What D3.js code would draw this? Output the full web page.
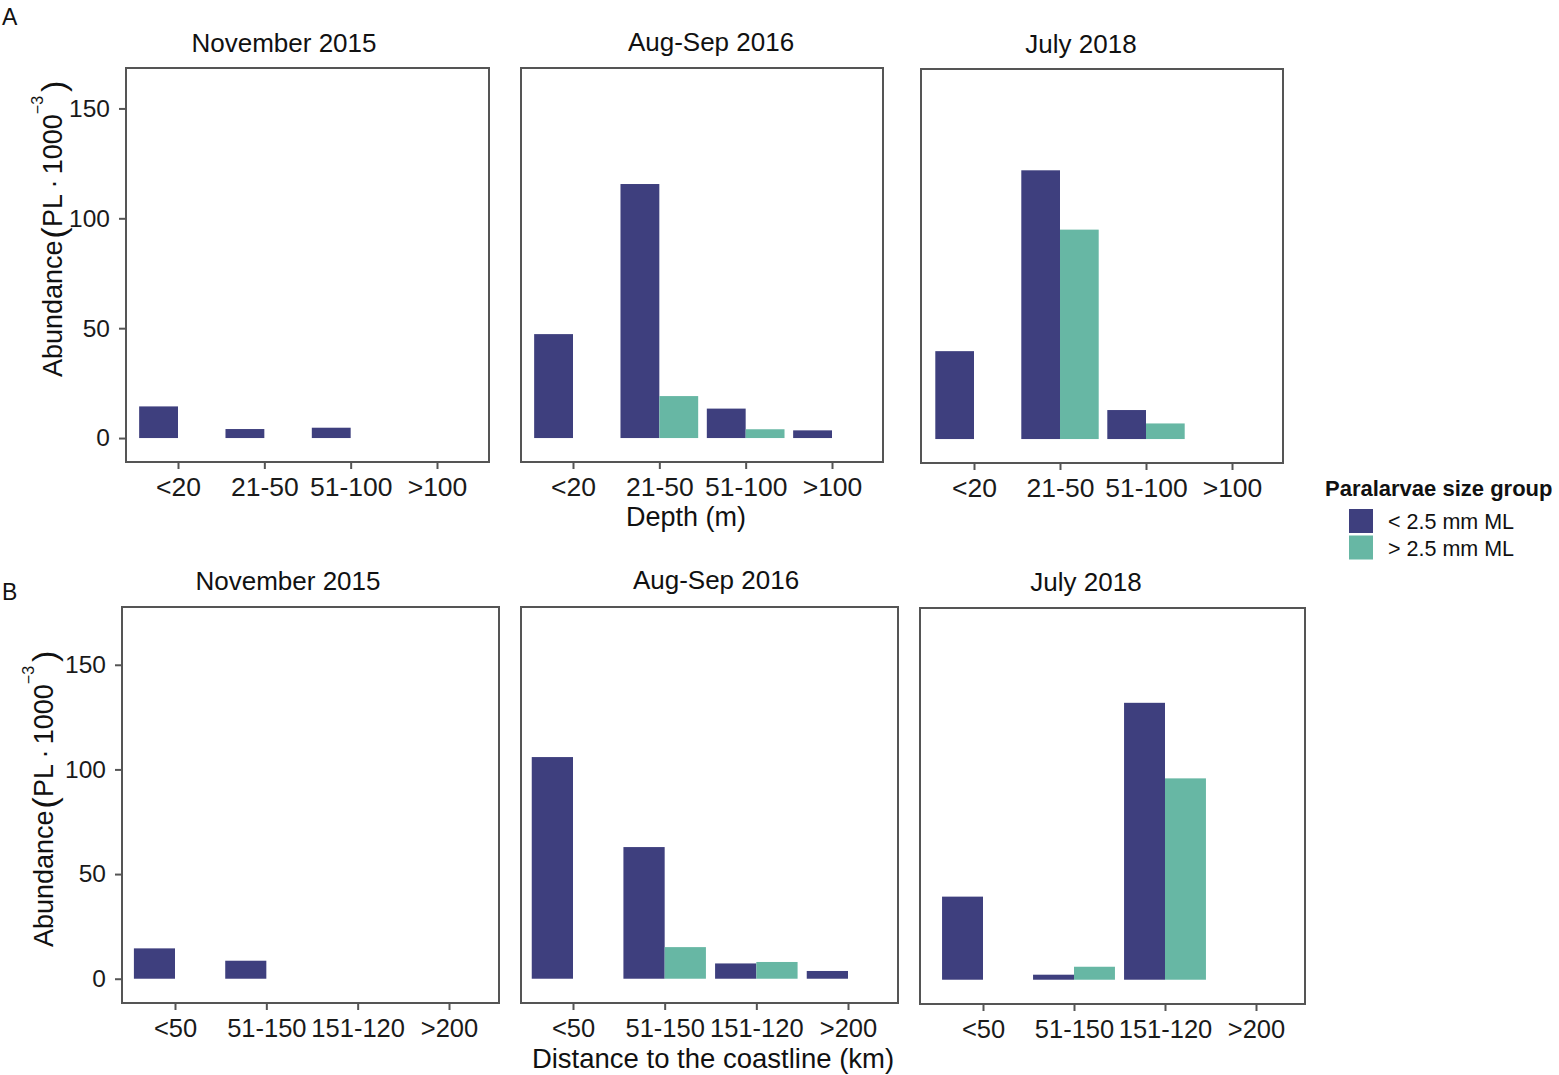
<!DOCTYPE html>
<html lang="en">
<head>
<meta charset="UTF-8">
<title>Paralarvae abundance</title>
<script src="https://cdn.jsdelivr.net/npm/d3@7"></script>
<style>
    body { margin: 0; background: #fff; }
    svg { font-family: "Liberation Sans", Arial, sans-serif; }
    .frame { fill: none; stroke: #555; stroke-width: 2; }
    .axis path { display: none; }
    .axis line { stroke: #555; stroke-width: 2; }
    .axis text { fill: #1a1a1a; }
</style>
</head>
<body>
<svg width="1559" height="1075"></svg>
<script>
// data
const surveys = ["November 2015", "Aug-Sep 2016", "July 2018"];
const depthCats = ["<20", "21-50", "51-100", ">100"];
const distCats = ["<50", "51-150", "151-120", ">200"];
const sizeGroups = ["< 2.5 mm ML", "> 2.5 mm ML"];
const yTicks = [0, 50, 100, 150];

// abundance per survey, one value per category (null = no bar)
const depthSmall = [[14.4, 4.1, 4.7, null], [47.3, 115.6, 13.4, 3.5], [40.0, 122.3, 13.2, null]];
const depthLarge = [[null, null, null, null], [null, 19.1, 4.0, null], [null, 95.3, 7.1, null]];
const distSmall = [[14.5, 8.6, null, null], [105.9, 62.9, 7.3, 3.7], [39.7, 2.4, 132.3, null]];
const distLarge = [[null, null, null, null], [null, 15.1, 8.0, null], [null, 6.2, 96.2, null]];

const colors = ["#3e3f7e", "#67b7a4"];

const svg = d3.select("svg");

// panel layout: frame box, first/last tick x, title centre
const rows = [
    {
        cats: depthCats, small: depthSmall, large: depthLarge,
        yDomain: [-10.9, 168.4], label: "A", labelY: 25, tickFont: 26.5, tickPad: 8,
        xTitle: "Depth (m)", xTitleX: 686, xTitleY: 526, xTitleFont: 27,
        yTitleX: 62, yTitleY: 377,
        panels: [
            {x0: 126, x1: 489, y0: 68, y1: 462, ta: 178, tb: 437, titleX: 284, titleY: 52},
            {x0: 521, x1: 883, y0: 68, y1: 462, ta: 573, tb: 832, titleX: 711, titleY: 51},
            {x0: 921, x1: 1283, y0: 69, y1: 463, ta: 974, tb: 1232, titleX: 1081, titleY: 53}
        ]
    },
    {
        cats: distCats, small: distSmall, large: distLarge,
        yDomain: [-11.6, 177.6], label: "B", labelY: 600, tickFont: 25.5, tickPad: 9,
        xTitle: "Distance to the coastline (km)", xTitleX: 713, xTitleY: 1068, xTitleFont: 27.5,
        yTitleX: 53, yTitleY: 947,
        panels: [
            {x0: 122, x1: 499, y0: 607, y1: 1003, ta: 175, tb: 449, titleX: 288, titleY: 590},
            {x0: 521, x1: 898, y0: 607, y1: 1003, ta: 573, tb: 848, titleX: 716, titleY: 589},
            {x0: 920, x1: 1305, y0: 608, y1: 1004, ta: 983, tb: 1256, titleX: 1086, titleY: 591}
        ]
    }
];

rows.forEach(row => {
    svg.append("text")
        .attr("x", 2).attr("y", row.labelY)
        .attr("font-size", 23).attr("fill", "#111")
        .text(row.label);

    row.panels.forEach((p, i) => {
        const x = d3.scalePoint().domain(row.cats).range([p.ta, p.tb]);
        const y = d3.scaleLinear().domain(row.yDomain).range([p.y1, p.y0]);
        const bw = x.step() * 0.45;

        const g = svg.append("g");

        // bars: small group left of tick, large group right of tick
        const bars = [];
        row.cats.forEach((c, j) => {
            if (row.small[i][j] != null) bars.push({cat: c, grp: 0, v: row.small[i][j]});
            if (row.large[i][j] != null) bars.push({cat: c, grp: 1, v: row.large[i][j]});
        });

        g.selectAll("rect.bar")
            .data(bars)
            .enter().append("rect")
            .attr("class", "bar")
            .attr("x", d => x(d.cat) + (d.grp === 0 ? -bw : 0))
            .attr("width", bw)
            .attr("y", d => y(d.v))
            .attr("height", d => y(0) - y(d.v))
            .attr("fill", d => colors[d.grp]);

        g.append("rect")
            .attr("class", "frame")
            .attr("x", p.x0).attr("y", p.y0)
            .attr("width", p.x1 - p.x0).attr("height", p.y1 - p.y0);

        const xAxis = g.append("g")
            .attr("class", "axis")
            .attr("transform", `translate(0,${p.y1})`)
            .call(d3.axisBottom(x).tickSize(7).tickPadding(row.tickPad));
        xAxis.selectAll("text").attr("font-size", row.tickFont);

        if (i === 0) {
            const yAxis = g.append("g")
                .attr("class", "axis")
                .attr("transform", `translate(${p.x0},0)`)
                .call(d3.axisLeft(y).tickValues(yTicks).tickSize(7).tickPadding(9));
            yAxis.selectAll("text").attr("font-size", 24.5);
        }

        g.append("text")
            .attr("x", p.titleX).attr("y", p.titleY)
            .attr("text-anchor", "middle")
            .attr("font-size", 26).attr("fill", "#111")
            .text(surveys[i]);
    });

    // x axis title
    svg.append("text")
        .attr("x", row.xTitleX).attr("y", row.xTitleY)
        .attr("text-anchor", "middle")
        .attr("font-size", row.xTitleFont).attr("fill", "#111")
        .text(row.xTitle);

    // y axis title: Abundance (PL · 1000^-3)
    const yt = svg.append("text")
        .attr("transform", `translate(${row.yTitleX},${row.yTitleY}) rotate(-90)`)
        .attr("font-size", 27).attr("fill", "#111");
    yt.append("tspan").text("Abundance");
    yt.append("tspan").attr("font-size", 34).attr("dx", 2).attr("dy", 3).text("(");
    yt.append("tspan").attr("dy", -3).text("PL\u2009\u00b7\u20091000");
    yt.append("tspan").attr("font-size", 16).attr("dy", -19).text("\u22123");
    yt.append("tspan").attr("font-size", 34).attr("dx", 4).attr("dy", 22).text(")");
});

// legend
const legend = svg.append("g").attr("transform", "translate(1325,0)");
legend.append("text")
    .attr("x", 0).attr("y", 496)
    .attr("font-size", 22).attr("font-weight", "bold").attr("fill", "#111")
    .text("Paralarvae size group");

const items = legend.selectAll(".legend-item")
    .data(sizeGroups)
    .enter().append("g")
    .attr("class", "legend-item")
    .attr("transform", (d, i) => `translate(0,${509 + i * 26.5})`);

items.append("rect")
    .attr("x", 24).attr("width", 24).attr("height", 24)
    .attr("fill", (d, i) => colors[i]);

items.append("text")
    .attr("x", 63).attr("y", 20)
    .attr("font-size", 21.5).attr("fill", "#111")
    .text(d => d);
</script>
</body>
</html>
